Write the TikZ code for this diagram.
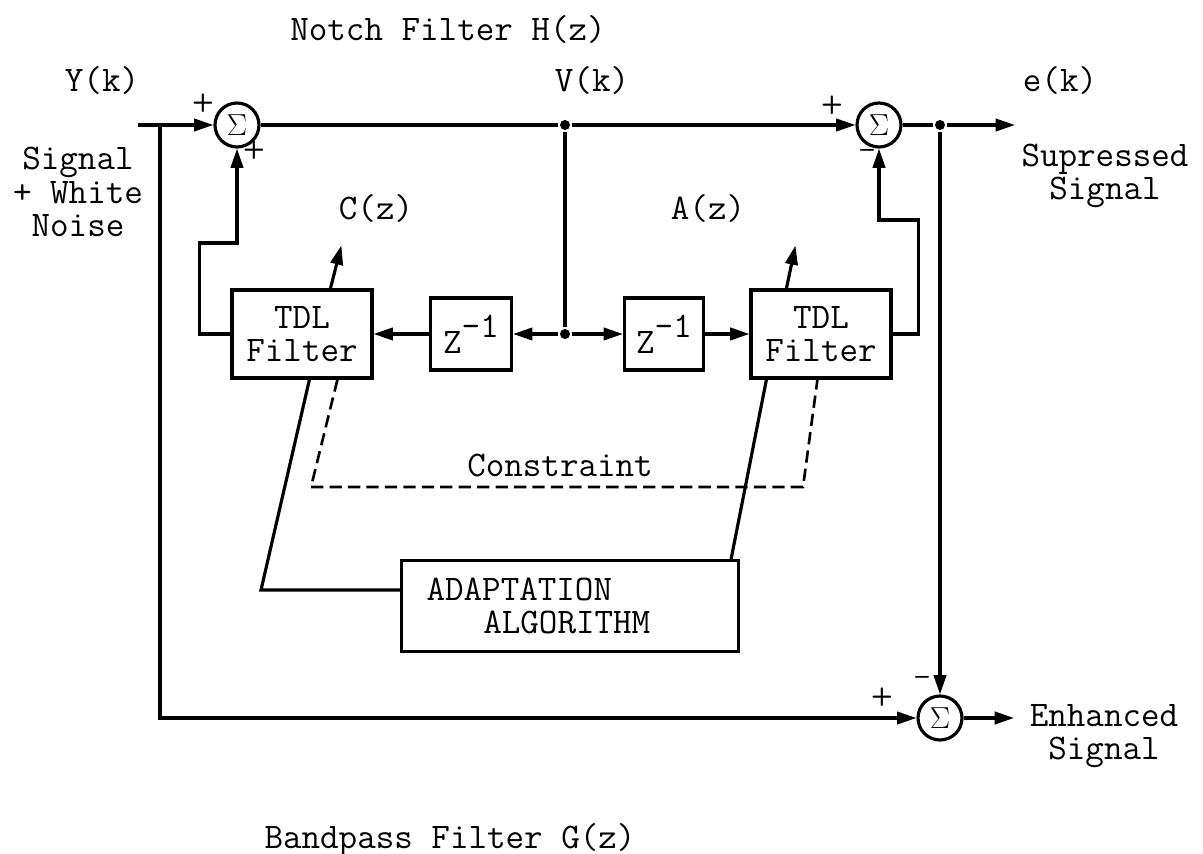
\documentclass[tikz,border=0pt]{standalone}
\usetikzlibrary{arrows.meta,calc}

\begin{document}
\begin{tikzpicture}[x=0.02cm,y=-0.02cm,line width=1.8pt,>={Triangle[length=11pt,width=7pt]},
  lbl/.style={font=\ttfamily\fontsize{20.5}{19}\selectfont,inner sep=0pt,align=center},
  blk/.style={draw,line width=1.8pt,inner sep=0pt,align=center,font=\ttfamily\fontsize{20.5}{19}\selectfont},
  sumnode/.style={draw,circle,minimum size=0.88cm,inner sep=0pt,font=\LARGE},
  dot/.style={circle,fill,inner sep=0pt,minimum size=0.2cm},
  sgn/.style={font=\sffamily\bfseries\Large,inner sep=0pt}]
  \useasboundingbox (0,0) rectangle (1203,854);
  % summing junctions and branch points
  \node[sumnode] (s1) at (237,125) {$\Sigma$};
  \node[sumnode] (s2) at (879,125) {$\Sigma$};
  \node[sumnode] (s3) at (940,718) {$\Sigma$};
  \node[dot] (v) at (565,125) {};
  \node[dot] (e) at (940,125) {};
  \node[dot] (j) at (565,334) {};
  \coordinate (in) at (138,125);
  \coordinate (br) at (160,125);
  \coordinate (eout) at (1015,125);
  \coordinate (gout) at (1014,718);
  % blocks
  \node[blk,minimum width=2.8cm,minimum height=1.76cm] (f1) at (302,334) {TDL\\Filter};
  \node[blk,minimum width=2.8cm,minimum height=1.76cm] (f2) at (821,334) {TDL\\Filter};
  \node[blk,minimum width=1.62cm,minimum height=1.44cm] (z1) at (471,334) {Z\raisebox{.45em}{-1}};
  \node[blk,minimum width=1.58cm,minimum height=1.44cm] (z2) at (664,334) {Z\raisebox{.45em}{-1}};
  \node[blk,anchor=north west,minimum height=1.82cm,text width=5.74cm,inner xsep=0.5cm,align=left] (ad) at (400,559) {ADAPTATION\\\hspace*{1.575em}ALGORITHM};
  % texts
  \node[lbl] (notch) at (448,30) {Notch Filter H(z)};
  \node[lbl] (band) at (450,840) {Bandpass Filter G(z)};
  \node[lbl] (yk) at (102,81) {Y(k)};
  \node[lbl] (vk) at (592,81) {V(k)};
  \node[lbl] (ek) at (1060,81) {e(k)};
  \node[lbl,font=\ttfamily\fontsize{20.5}{19.2}\selectfont] (sn) at (78,192) {Signal\\+ White\\Noise};
  \node[lbl] (sup) at (1105,176) {Supressed\\Signal};
  \node[lbl] (enh) at (1104,736) {Enhanced\\Signal};
  \node[lbl] (cz) at (376,208) {C(z)};
  \node[lbl] (az) at (708,208) {A(z)};
  \node[lbl] (con) at (560,465) {Constraint};
  \node[sgn] (p1) at (203,103) {+};
  \node[sgn] (p2) at (254,150) {+};
  \node[sgn] (p3) at (832,105) {+};
  \node[sgn] (m1) at (867,153) {--};
  \node[sgn] (p4) at (882,697) {+};
  \node[sgn] (m2) at (922,680) {--};
  % signal paths
  \draw[->] (in) -- (s1);
  \draw (s1) -- (v);
  \draw[->] (v) -- (s2);
  \draw (s2) -- (e);
  \draw[->] (e) -- (eout);
  \draw[->] (e) -- (s3);
  \draw[->] (br) |- (s3);
  \draw[->] (s3) -- (gout);
  \draw (v) -- (j);
  \draw[->] (j) -- (z1);
  \draw[->] (z1) -- (f1);
  \draw[->] (j) -- (z2);
  \draw[->] (z2) -- (f2);
  \draw[->] (f1.west) -| ++(-31,-91) -| (s1.south);
  \draw[->] (f2.east) -| ++(26,-114) -| (s2.south);
  \draw[->] ($(f1.north west)+(100,0)$) -- ++(11,-43);
  \draw[->] ($(f2.north west)+(37,0)$) -- ++(9,-43);
  % adaptation and constraint
  \draw ($(f1.south west)+(79,0)$) -- ($(ad.north west)+(-139,31)$) -- ($(ad.north west)+(0,31)$);
  \draw ($(f2.south west)+(17,0)$) -- ($(ad.north east)+(-9,0)$);
  \draw[dashed,line width=1.5pt,dash pattern=on 7pt off 3.5pt] ($(f1.south west)+(107,0)$) -- (311,487) -- (803,487) -- ($(f2.south west)+(68,0)$);
\end{tikzpicture}
\end{document}
